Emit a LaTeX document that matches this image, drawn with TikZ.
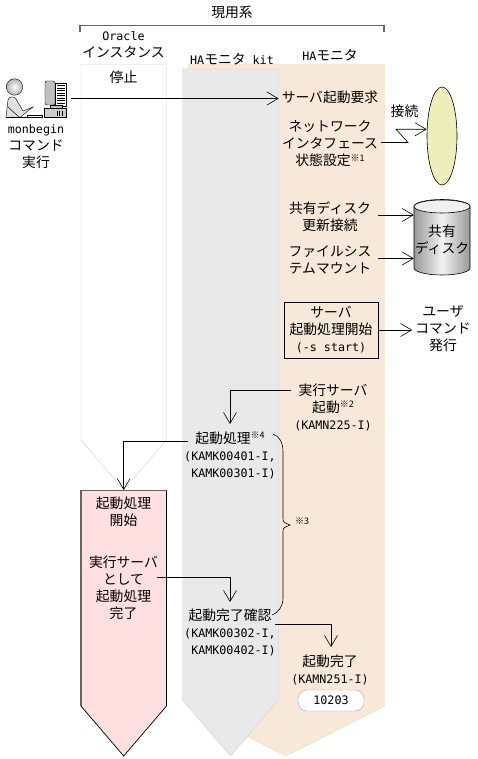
\documentclass[tikz,border=0pt]{standalone}
\usepackage{fontspec}
\usepackage{xcolor}
\setmainfont{Noto Sans CJK JP}
\newfontfamily\latfont{DejaVu Sans Mono}
\usetikzlibrary{arrows.meta,positioning,shapes.geometric}
\definecolor{HaOrange}{HTML}{F7E8D9}
\definecolor{HaEdge}{HTML}{EFD3B8}
\definecolor{KitGray}{HTML}{E9E9E9}
\definecolor{StartPink}{HTML}{FFDFDF}
\definecolor{NicYellow}{HTML}{EEEEBB}
\newcommand{\lat}[1]{{\latfont\fontsize{11.7}{17}\selectfont #1}}
\newcommand{\note}[1]{{\fontsize{9}{9}\selectfont\raisebox{4.5pt}{#1}}}

\begin{document}
\begin{tikzpicture}[
  x=1pt, y=-1pt,
  node distance=6pt,
  txt/.style={inner sep=3pt, align=center, font=\fontsize{13.8}{17}\selectfont},
  flow/.style={-{Straight Barb[length=11pt,width=13pt]}, line width=.6pt},
  link/.style={line width=.6pt}
]
  \useasboundingbox (0,0) rectangle (477,759);

  % columns
  \path[fill=HaOrange, draw=HaEdge] (188,64.5) -- (384.5,64.5) -- (384.5,706) -- (286,756) -- (188,706) -- cycle;
  \path[fill=KitGray, draw=black!18] (182.5,69) -- (278.5,69) -- (278.5,700) -- (230.5,756) -- (182.5,700) -- cycle;
  \path[fill=white, draw=black!18] (81,64.5) -- (166.5,64.5) -- (166.5,440) -- (123.7,490) -- (81,440) -- cycle;
  \path[fill=StartPink] (81,490.5) -- (166.5,490.5) -- (166.5,706) -- (123.7,756) -- (81,706) -- cycle;
  \draw[black!60, line width=1.2pt] (81,706) -- (81,490.5) -- (166.5,490.5);
  \draw[line width=.7pt] (166.5,490.5) -- (166.5,706) -- (123.7,756) -- (81,706);

  % bracket
  \draw[black!60, line width=1.1pt] (80,32) -- (80,25.7) -- (384,25.7) -- (384,32);
  \node[txt] (genyo) at (232,12) {現用系};

  % operator and terminal
  \shade[inner color=white, outer color=black!30, draw=black, line width=.4pt] (14.5,87) circle (8.2);
  \path[fill=black!12, draw=black, line width=.4pt] (6,117.3) -- (8,100) .. controls (9,96) and (14,96) .. (16,99) -- (23,111) -- (33,107) -- (20,117.3) -- cycle;
  \draw[line width=.5pt] (8,107) -- (19,117);
  \draw[line width=.8pt] (6,117.6) -- (42,117.6);
  \draw[fill=white, line width=.4pt] (27,115) rectangle (42,117.5);
  \path[fill=black!25, draw=black, line width=.4pt, rounded corners=1.5pt] (45,81) rectangle (55,105);
  \path[fill=white, draw=black, line width=.4pt] (55,83.5) rectangle (66,106);
  \foreach \ypos in {85.5,88,90.5,93,95.5,98,100.5,103}
    \draw[line width=.7pt] (57,\ypos) -- (65,\ypos);
  \path[fill=black!25, draw=black, line width=.4pt] (50,105) rectangle (62,108);
  \path[fill=black!20, draw=black, line width=.4pt] (44,108) rectangle (66,117.5);
  \foreach \xpos in {57,59.5,62}
    \draw[line width=.6pt] (\xpos,111) -- (\xpos,116);
  \coordinate (usr) at (71,98.5);
  \node[txt] (cmd) at (36,147) {\lat{monbegin}\\コマンド\\実行};

  % Oracle column
  \node[txt] (orcl) at (123.5,45) {\lat{Oracle}\\インスタンス};
  \node[txt, below=6pt of orcl] (stop) {停止};

  % HA monitor kit column
  \node[txt] (kit) at (232,59) {\lat{HA}モニタ\lat{ kit}};
  \node[txt] (kitstart) at (230,455) {起動処理\note{※4}\\\lat{(KAMK00401-I,}\\\lat{ KAMK00301-I)}};
  \node[txt] (kitdone) at (230,632) {起動完了確認\\\lat{(KAMK00302-I,}\\\lat{ KAMK00402-I)}};

  % HA monitor column
  \node[txt] (ha) at (330,55) {\lat{HA}モニタ};
  \node[txt] (req) at (330,97) {サーバ起動要求};
  \node[txt, below=11pt of req] (netif) {ネットワーク\\インタフェース\\状態設定\note{※1}};
  \node[txt, below=28pt of netif] (upd) {共有ディスク\\更新接続};
  \node[txt, below=8pt of upd] (mnt) {ファイルシス\\テムマウント};
  \node[draw, line width=.6pt, txt, minimum width=94pt, minimum height=56pt, inner sep=0pt] (begin) at (331,330) {サーバ\\起動処理開始\\\lat{(-s start)}};
  \node[txt] (run) at (333,407) {実行サーバ\\起動\note{※2}\\\lat{(KAMN225-I)}};
  \node[txt] (done) at (330,670) {起動完了\\\lat{(KAMN251-I)}};
  \node[draw=black!35, fill=white, rounded corners=9pt, minimum width=66pt, minimum height=21pt, inner sep=0pt] (code) at (331,700.5) {\lat{10203}};

  % outer resources
  \node[txt] (conn) at (404.5,111) {接続};
  \node[ellipse, draw, fill=NicYellow, line width=.6pt, minimum width=30pt, minimum height=98pt, inner sep=0pt] (nic) at (442,136) {};
  \path[draw, line width=.6pt, left color=black!40, right color=black!40, middle color=black!5] (414,206.5) -- (414,268) arc[start angle=180, end angle=360, x radius=28, y radius=-7] -- (470,206.5) arc[start angle=0, end angle=180, x radius=28, y radius=-7] -- cycle;
  \draw[fill=black!6, line width=.6pt] (442,206.5) ellipse (28 and 6.5);
  \node[txt, minimum width=56pt, inner sep=0pt] (disk) at (442,240) {共有\\ディスク};
  \node[txt] (ucmd) at (443,329) {ユーザ\\コマンド\\発行};

  % brace
  \node[txt, font=\fontsize{9}{9}\selectfont] (n3) at (302,521) {※3};
  \coordinate (bracea) at (273,434);
  \coordinate (braceb) at (272,615);
  \coordinate (bracec) at (290,525);
  \draw[link] (bracea) .. controls (279,436) and (283,442) .. (283,452) -- (283,518) .. controls (283,522) .. (bracec) .. controls (283,528) .. (283,532) -- (283,598) .. controls (283,606) and (279,612) .. (braceb);

  % connectors
  \draw[flow] (usr) -- (usr -| req.west);
  \coordinate (zigr) at (408,142.5);
  \coordinate (zigl) at (396,129.3);
  \draw[flow] (netif.east |- zigr) -- (zigr) -- (zigl) -- (zigl -| nic.west);
  \coordinate (updy) at (378,215);
  \coordinate (mnty) at (378,258.5);
  \draw[flow] (updy) -- (updy -| disk.west);
  \draw[flow] (mnty) -- (mnty -| disk.west);
  \draw[flow] (begin.east) -- (begin.east -| ucmd.west);
  \coordinate (runa) at (291,390);
  \coordinate (kita) at (230,424);
  \draw[flow] (runa) -| (kita);
  \coordinate (kitb) at (188,441.5);
  \coordinate (pinka) at (123.7,490);
  \draw[flow] (kitb) -| (pinka);
  \coordinate (pinkb) at (157,577.5);
  \coordinate (kitc) at (230,602);
  \draw[flow] (pinkb) -| (kitc);
  \coordinate (kitd) at (275,624.5);
  \coordinate (donea) at (331,647);
  \draw[flow] (kitd) -| (donea);

  % pink column
  \node[txt] (pstart) at (123.5,512) {起動処理\\開始};
  \node[txt] (pdone) at (123.5,588) {実行サーバ\\として\\起動処理\\完了};
\end{tikzpicture}
\end{document}
